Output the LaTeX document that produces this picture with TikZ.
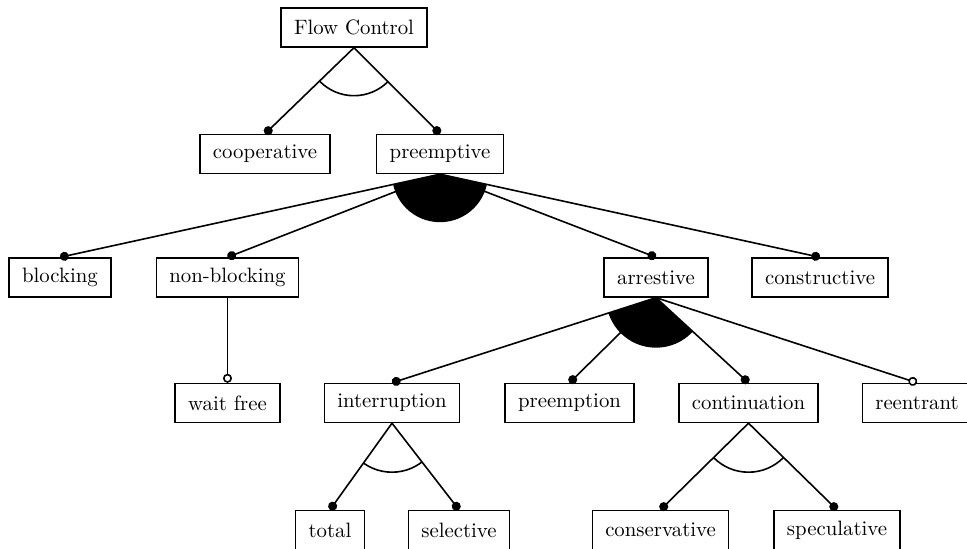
\documentclass[tikz,border=0pt]{standalone}
\usepackage{tikz}
\usetikzlibrary{arrows.meta}

\tikzset{
    feature/.style={draw, line width=0.7pt, minimum height=19.5pt, inner xsep=6.5pt, font=\fontsize{10.4}{12.5}\selectfont},
    mand/.style={line width=0.8pt, -{Circle[length=4.5pt]}},
    opt/.style={line width=0.8pt, -{Circle[open, length=4.5pt, fill=white]}}
}

\begin{document}
\begin{tikzpicture}[x=0.5pt, y=-0.5pt]
    \useasboundingbox (0,0) rectangle (967,549);

    % Features
    \node[feature] (fc) at (354,27.5) {Flow Control};
    \node[feature] (coop) at (265,154) {cooperative};
    \node[feature] (preempt) at (440,154) {preemptive};

    \foreach \name/\x/\txt in {
        blocking/60/blocking,
        nonblocking/227.5/non-blocking,
        arrestive/656/arrestive,
        constructive/820/constructive
    } {
        \node[feature] (\name) at (\x,277.5) {\txt};
    }

    \foreach \name/\x/\txt in {
        waitfree/227.5/wait free,
        interruption/392/interruption,
        preemption/569.5/preemption,
        continuation/748.5/continuation,
        reentrant/917/reentrant
    } {
        \node[feature] (\name) at (\x,403) {\txt};
    }

    \foreach \name/\x/\txt in {
        total/330/total,
        selective/459/selective,
        conservative/660.5/conservative,
        speculative/837/speculative
    } {
        \node[feature] (\name) at (\x,530) {\txt};
    }

    % Edges
    \foreach \c in {coop, preempt}
        \draw[mand] (fc.south) -- (\c.north);
    \foreach \c in {blocking, nonblocking, arrestive, constructive}
        \draw[mand] (preempt.south) -- (\c.north);
    \draw[opt] (nonblocking.south) -- (waitfree.north);
    \foreach \c in {interruption, preemption, continuation}
        \draw[mand] (arrestive.south) -- (\c.north);
    \draw[opt] (arrestive.south) -- (reentrant.north);
    \foreach \c in {total, selective}
        \draw[mand] (interruption.south) -- (\c.north);
    \foreach \c in {conservative, speculative}
        \draw[mand] (continuation.south) -- (\c.north);

    % Groups
    \begin{scope}
        \clip (fc.south) -- (coop.north) -- (preempt.north) -- cycle;
        \draw[line width=0.8pt] (fc.south) circle (24pt);
    \end{scope}
    \begin{scope}
        \clip (preempt.south) -- (blocking.north) -- (constructive.north) -- cycle;
        \fill (preempt.south) circle (24pt);
    \end{scope}
    \begin{scope}
        \clip (arrestive.south) -- (interruption.north) -- (continuation.north) -- cycle;
        \fill (arrestive.south) circle (25pt);
    \end{scope}
    \begin{scope}
        \clip (interruption.south) -- (total.north) -- (selective.north) -- cycle;
        \draw[line width=0.8pt] (interruption.south) circle (24.5pt);
    \end{scope}
    \begin{scope}
        \clip (continuation.south) -- (conservative.north) -- (speculative.north) -- cycle;
        \draw[line width=0.8pt] (continuation.south) circle (24.5pt);
    \end{scope}
\end{tikzpicture}
\end{document}
